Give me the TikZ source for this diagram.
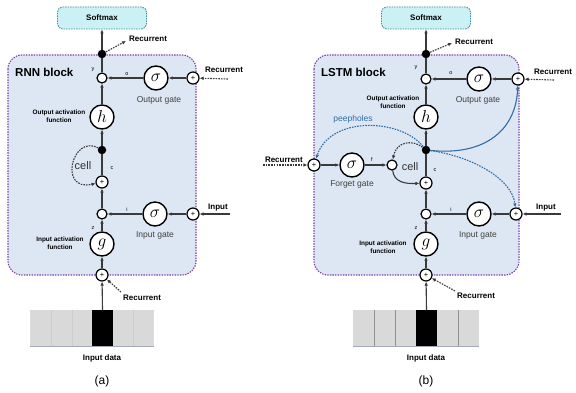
\documentclass[tikz,border=0pt]{standalone}
\usepackage{fontspec}
\setmainfont{Liberation Sans}
\usetikzlibrary{arrows.meta}
\definecolor{blockfill}{HTML}{DDE7F4}
\definecolor{blockline}{HTML}{7B3FA0}
\definecolor{smfill}{HTML}{CBF1F5}
\definecolor{smline}{HTML}{3F8F9F}
\definecolor{peep}{HTML}{2F6DA3}
\definecolor{wirec}{HTML}{3A3A3A}
\definecolor{bargray}{HTML}{D9D9D9}
\definecolor{bardiv}{HTML}{CDCDCD}
\definecolor{barbase}{HTML}{A4AAB8}
\begin{document}
\begin{tikzpicture}[x=1pt,y=-1pt,
  wire/.style={draw=wirec, line width=1.1pt},
  arr/.style={wire,-{Latex[length=4pt,width=3.6pt]}},
  darr/.style={arr, dash pattern=on 1.6pt off 1.1pt},
  barr/.style={draw=peep, line width=1.1pt,-{Latex[length=4pt,width=3.6pt]}},
  dbarr/.style={barr, dash pattern=on 1.6pt off 1.1pt},
  gate/.style={circle, draw=black, line width=1.4pt, fill=white, minimum size=24pt, inner sep=0pt, font=\fontsize{17}{17}\selectfont},
  plusn/.style={circle, draw=black, line width=1.2pt, fill=white, minimum size=12pt, inner sep=0pt, font=\fontsize{7.5}{7.5}\selectfont},
  prodn/.style={circle, draw=black, line width=1.2pt, fill=white, minimum size=10pt, inner sep=0pt,
     path picture={\fill (path picture bounding box.center) circle (0.8pt);}},
  dotn/.style={circle, fill=black, minimum size=8.5pt, inner sep=0pt},
  sm/.style={draw=smline, fill=smfill, line width=0.9pt, dash pattern=on 1.5pt off 1pt, rounded corners=5pt,
     minimum width=89pt, minimum height=22pt, inner sep=0pt, font=\bfseries\fontsize{8}{9}\selectfont},
  blk/.style={draw=blockline, fill=blockfill, line width=1.1pt, dash pattern=on 1.4pt off 1.2pt, rounded corners=14pt},
  blocklbl/.style={font=\bfseries\fontsize{11.5}{12}\selectfont, inner sep=0pt},
  lbl/.style={font=\bfseries\fontsize{8}{9}\selectfont, inner sep=0pt},
  gatelbl/.style={font=\fontsize{8.5}{9}\selectfont, text=black!75, inner sep=0pt},
  fn/.style={font=\bfseries\fontsize{6.4}{8}\selectfont, align=center, inner sep=0pt},
  tinyl/.style={font=\fontsize{5.5}{6}\selectfont, inner sep=0pt},
  celllbl/.style={font=\fontsize{11}{12}\selectfont, text=black!80, inner sep=0pt},
  caption/.style={font=\fontsize{12}{13}\selectfont, inner sep=0pt},
  blackcell/.style={fill=black, minimum width=21pt, minimum height=36pt, inner sep=0pt}
]
\useasboundingbox (0,0) rectangle (576,393);
\fill[white] (0,0) rectangle (576,393);

% ================= (a) RNN =================
\draw[blk] (8,55) rectangle (196,275);
\node[sm] (smA) at (102,18) {Softmax};
\node[dotn] (tdA) at (102,54) {};
\coordinate (rtA) at (126,41);
\node[lbl, anchor=west] at (129,39) {Recurrent};
\node[blocklbl, anchor=west] at (15,72) {RNN block};
\node[prodn] (poA) at (102,78) {};
\node[gate] (goA) at (156,78) {$\sigma$};
\node[plusn] (ppoA) at (193,78) {+};
\node[lbl, anchor=west] at (205,70) {Recurrent};
\coordinate (roA) at (228,79);
\node[tinyl] at (93,70) {y};
\node[tinyl] at (127,74) {o};
\node[gatelbl] at (159,100) {Output gate};
\node[gate] (hA) at (102,117) {$h$};
\node[fn] at (59,116) {Output activation\\function};
\node[dotn] (cdA) at (102,150) {};
\node[celllbl] at (83,166) {cell};
\node[tinyl] at (112,168) {c};
\node[plusn] (pcA) at (102,182) {+};
\node[prodn] (piA) at (102,214) {};
\node[gate] (giA) at (155,214) {$\sigma$};
\node[plusn] (ppiA) at (193,214) {+};
\node[lbl, anchor=west] at (208,208) {Input};
\coordinate (inA) at (230,214);
\node[tinyl] at (127,210) {i};
\node[gatelbl] at (155,235) {Input gate};
\node[tinyl] at (93,228) {z};
\node[gate] (gA) at (102,244) {$g$};
\node[fn] at (60,243) {Input activation\\function};
\node[plusn] (pbA) at (102,275) {+};
\node[lbl, anchor=west] at (123,298) {Recurrent};
\coordinate (rbA) at (121,292);
\fill[bargray] (30,310) rectangle (154,346);
\foreach \xx in {51,72,133} \draw[bardiv, line width=0.6pt] (\xx,310) -- (\xx,346);
\draw[barbase, line width=1pt] (30,346) -- (154,346);
\node[blackcell] (xA) at (102.5,328) {};
\node[lbl] at (102,358) {Input data};
\node[caption] at (102,381) {(a)};

\draw[arr] (xA.north) -- (pbA);
\draw[arr] (pbA) -- (gA);
\draw[arr] (gA) -- (piA);
\draw[arr] (piA) -- (pcA);
\draw[wire] (pcA) -- (cdA);
\draw[arr] (cdA) -- (hA);
\draw[arr] (hA) -- (poA);
\draw[wire] (poA) -- (tdA);
\draw[arr] (tdA) -- (smA);
\draw[darr] (tdA) -- (rtA);
\draw[darr] (roA) -- (ppoA);
\draw[arr] (ppoA) -- (goA);
\draw[arr] (goA) -- (poA);
\draw[arr] (inA) -- (ppiA);
\draw[arr] (ppiA) -- (giA);
\draw[arr] (giA) -- (piA);
\draw[darr] (rbA) -- (pbA);
\draw[darr] (cdA) .. controls (72,134) and (58,192) .. (pcA);

% ================= (b) LSTM =================
\draw[blk] (314,55) rectangle (519,275);
\node[sm] (smB) at (426,18) {Softmax};
\node[dotn] (tdB) at (426,54) {};
\coordinate (rtB) at (452,43);
\node[lbl, anchor=west] at (455,42) {Recurrent};
\node[blocklbl, anchor=west] at (321,72) {LSTM block};
\node[prodn] (poB) at (426,79) {};
\node[gate] (goB) at (479,79) {$\sigma$};
\node[plusn] (ppoB) at (518,79) {+};
\node[lbl, anchor=west] at (534,72) {Recurrent};
\coordinate (roB) at (554,80);
\node[tinyl] at (416,68) {y};
\node[tinyl] at (451,73) {o};
\node[gatelbl] at (478,100) {Output gate};
\node[gate] (hB) at (426,117) {$h$};
\node[fn] at (393,102) {Output activation\\function};
\node[font=\fontsize{8.5}{9}\selectfont, text=peep, inner sep=0pt] at (353,119) {peepholes};
\node[dotn] (cdB) at (426,150) {};
\node[plusn] (pfB) at (314,165) {+};
\node[lbl, anchor=east] at (303,160) {Recurrent};
\coordinate (rfB) at (263,165);
\node[gate] (gfB) at (352,165) {$\sigma$};
\node[gatelbl] at (352,184) {Forget gate};
\node[tinyl] at (372,160) {f};
\node[prodn] (pdfB) at (392,165) {};
\node[celllbl] at (410,167) {cell};
\node[tinyl] at (435,170) {c};
\node[plusn] (pcB) at (426,183) {+};
\node[prodn] (piB) at (426,214) {};
\node[gate] (giB) at (479,214) {$\sigma$};
\node[plusn] (ppiB) at (516,214) {+};
\node[lbl, anchor=west] at (536,208) {Input};
\coordinate (inB) at (561,214);
\node[tinyl] at (451,210) {i};
\node[gatelbl] at (478,235) {Input gate};
\node[tinyl] at (416,228) {z};
\node[gate] (gB) at (426,244) {$g$};
\node[fn] at (383,247) {Input activation\\function};
\node[plusn] (pbB) at (426,275) {+};
\node[lbl, anchor=west] at (457,296) {Recurrent};
\coordinate (rbB) at (455,291);
\fill[bargray] (353,310) rectangle (479,346);
\foreach \xx in {374,395,458} \draw[bardiv!70!black, line width=0.8pt] (\xx,310) -- (\xx,346);
\draw[barbase, line width=1pt] (353,346) -- (479,346);
\node[blackcell] (xB) at (426.5,328) {};
\node[lbl] at (426,358) {Input data};
\node[caption] at (426,381) {(b)};

\draw[arr] (xB.north) -- (pbB);
\draw[arr] (pbB) -- (gB);
\draw[arr] (gB) -- (piB);
\draw[arr] (piB) -- (pcB);
\draw[wire] (pcB) -- (cdB);
\draw[arr] (cdB) -- (hB);
\draw[arr] (hB) -- (poB);
\draw[wire] (poB) -- (tdB);
\draw[arr] (tdB) -- (smB);
\draw[darr] (tdB) -- (rtB);
\draw[darr] (roB) -- (ppoB);
\draw[arr] (ppoB) -- (goB);
\draw[arr] (goB) -- (poB);
\draw[arr] (inB) -- (ppiB);
\draw[arr] (ppiB) -- (giB);
\draw[arr] (giB) -- (piB);
\draw[darr] (rbB) -- (pbB);
\draw[darr] (rfB) -- (pfB);
\draw[arr] (pfB) -- (gfB);
\draw[arr] (gfB) -- (pdfB);
\draw[arr] (pdfB) .. controls (394,182) and (405,184) .. (pcB);
\draw[darr] (cdB) .. controls (412,139) and (396,142) .. (pdfB);
\draw[barr] (cdB) .. controls (485,156) and (516,130) .. (ppoB);
\draw[dbarr] (cdB) .. controls (470,156) and (512,178) .. (ppiB);
\draw[dbarr] (cdB) .. controls (400,118) and (330,116) .. (pfB);
\end{tikzpicture}
\end{document}
